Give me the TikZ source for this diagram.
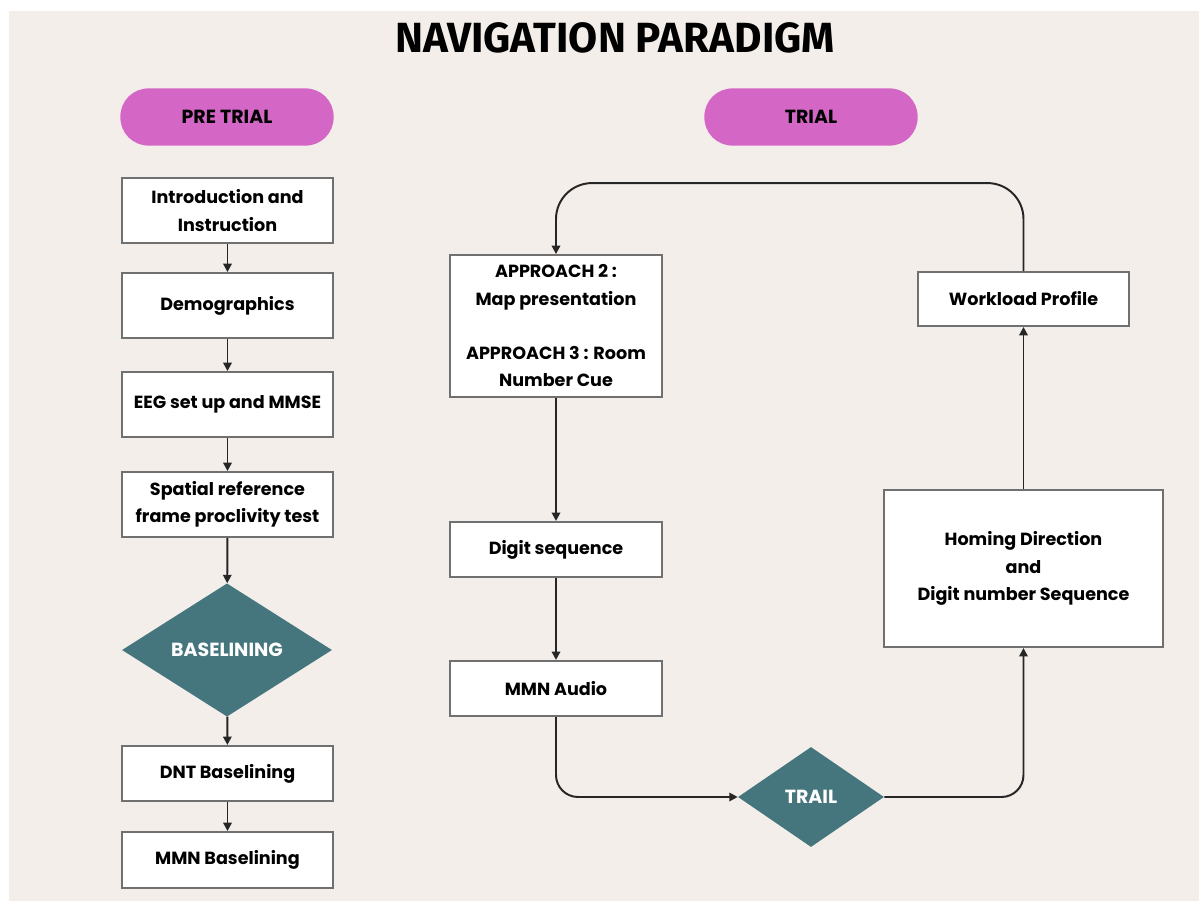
\documentclass[tikz,border=0pt]{standalone}
\usepackage{fontspec}
\setmainfont{Poppins}
\newfontfamily\titlefont{Fira Sans}
\usetikzlibrary{shapes.geometric,arrows.meta}
\definecolor{npBg}{HTML}{F3EEEA}
\definecolor{npPink}{HTML}{D466C6}
\definecolor{npTeal}{HTML}{45767E}
\definecolor{npEdge}{HTML}{707070}
\definecolor{npLine}{HTML}{262626}

\begin{document}
\begin{tikzpicture}[x=0.025cm,y=-0.025cm,
    box/.style={draw=npEdge, line width=1.3pt, fill=white, align=center,
                font=\fontsize{12.5}{19.5}\selectfont\bfseries,
                inner sep=0pt, minimum width=5.28cm, minimum height=1.625cm},
    pill/.style={fill=npPink, rounded corners=0.7cm, align=center,
                 font=\fontsize{13.5}{15}\selectfont\bfseries,
                 minimum width=5.33cm, minimum height=1.43cm},
    gate/.style={diamond, fill=npTeal, text=white, inner sep=0pt,
                 font=\fontsize{13.5}{15}\selectfont\bfseries},
    arr/.style={-{Triangle[length=6pt,width=6pt]}, line width=1.4pt, draw=npLine}]
    % page and background
    \fill[white] (0,0) rectangle (1199,901);
    \fill[npBg] (9,11) rectangle (1199,901);
    \useasboundingbox (0,0) rectangle (1199,901);
    \node[font=\titlefont\fontsize{30}{34}\selectfont\bfseries] (title) at (615,38) {NAVIGATION PARADIGM};
    \node[pill] (pre)   at (227,117) {PRE TRIAL};
    \node[pill] (trial) at (811,117) {TRIAL};
    % pre trial column
    \node[box] (intro)   at (227.5,210.5) {Introduction and\\Instruction};
    \node[box] (demo)    at (227.5,305.5) {Demographics};
    \node[box] (eeg)     at (227.5,404.5) {EEG set up and MMSE};
    \node[box] (spatial) at (227.5,504.5) {Spatial reference\\frame proclivity test};
    \node[gate, minimum width=5.25cm, minimum height=3.33cm] (base) at (227,650) {BASELINING};
    \node[box, minimum height=1.38cm] (dnt)  at (227.5,773.5) {DNT Baselining};
    \node[box, minimum height=1.4cm]  (mmnb) at (227.5,860) {MMN Baselining};
    \draw[arr] (intro) -- (demo);
    \draw[arr] (demo) -- (eeg);
    \draw[arr] (eeg) -- (spatial);
    \draw[arr] (spatial) -- (base);
    \draw[arr] (base) -- (dnt);
    \draw[arr] (dnt) -- (mmnb);
    % trial loop
    \node[box, minimum width=5.3cm, minimum height=3.55cm] (appr) at (556,326)
        {APPROACH 2 :\\Map presentation\\[19pt]APPROACH 3 : Room\\Number Cue};
    \node[box, minimum width=5.3cm, minimum height=1.38cm] (digit) at (556,549.5) {Digit sequence};
    \node[box, minimum width=5.3cm, minimum height=1.38cm] (audio) at (556,688.5) {MMN Audio};
    \node[gate, minimum width=3.65cm, minimum height=2.5cm] (trail) at (811,797) {TRAIL};
    \node[box, minimum width=6.98cm, minimum height=3.93cm] (homing) at (1023.5,568.5)
        {Homing Direction\\and\\Digit number Sequence};
    \node[box, minimum width=5.28cm, minimum height=1.35cm] (work) at (1023.5,299) {Workload Profile};
    \draw[arr] (appr) -- (digit);
    \draw[arr] (digit) -- (audio);
    \draw[arr, rounded corners=0.55cm] (audio.south) |- (trail.west);
    \draw[arr, rounded corners=0.55cm] (trail.east) -| (homing.south);
    \draw[arr] (homing) -- (work);
    \draw[arr, rounded corners=0.9cm] (work.north) -- ++(0,-88) -| (appr.north);
\end{tikzpicture}
\end{document}
